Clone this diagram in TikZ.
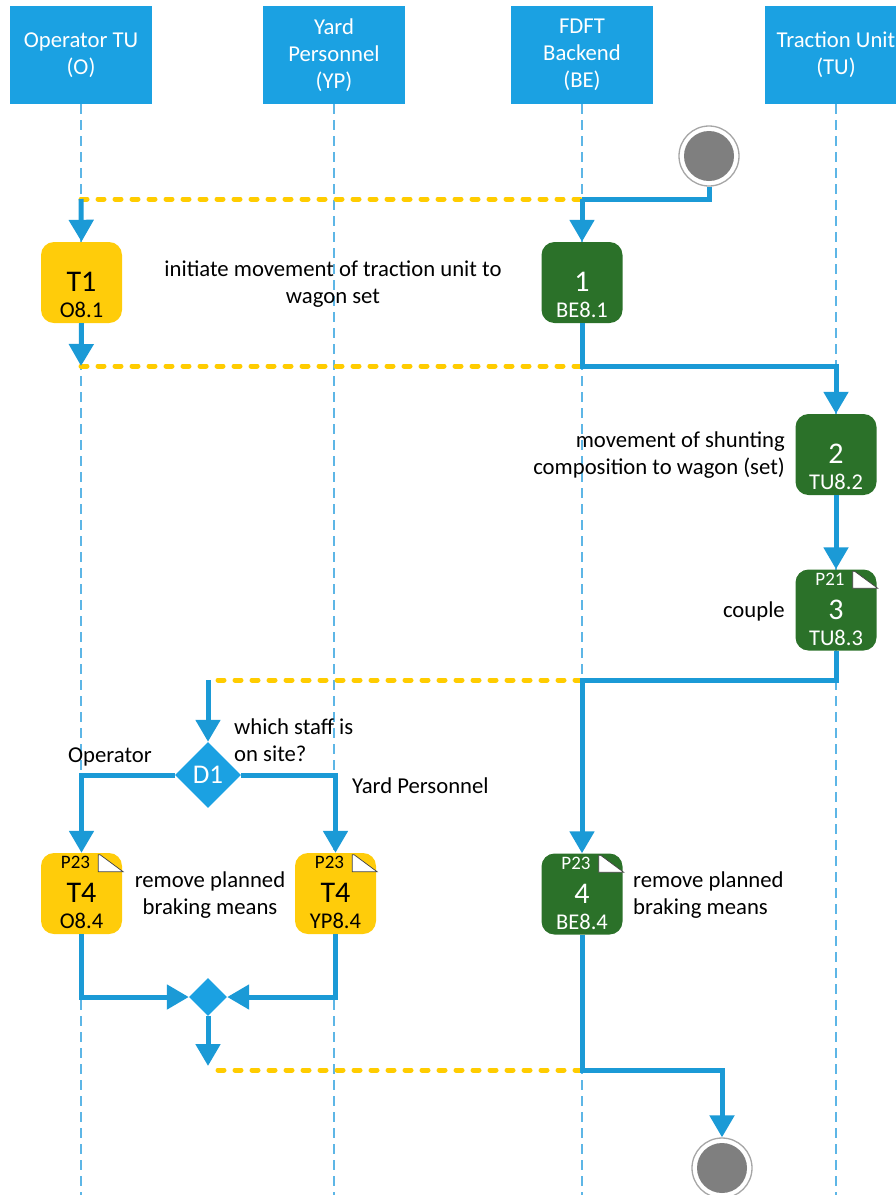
\documentclass[tikz,border=0pt]{standalone}
\usepackage{fontspec}
\setmainfont{Carlito}
\usetikzlibrary{arrows.meta,shapes.geometric,calc}

\definecolor{hdrblue}{HTML}{1BA1E2}
\definecolor{flowblue}{HTML}{1B9AD6}
\definecolor{lifeblue}{HTML}{5DB6E6}
\definecolor{syncyel}{HTML}{FFCC00}
\definecolor{taskyel}{HTML}{FFCC0A}
\definecolor{taskgrn}{HTML}{2B7129}
\definecolor{endgray}{HTML}{7F7F7F}
\definecolor{ringgray}{HTML}{A6A6A6}

\newcommand{\bodyfont}{\fontsize{22.7}{27}\selectfont}
\newcommand{\idfont}{\fontsize{30}{32}\selectfont}
\newcommand{\reffont}{\fontsize{22.5}{24}\selectfont}
\newcommand{\pfont}{\fontsize{19}{20}\selectfont}

\tikzset{
  lane/.style={fill=hdrblue, text=white, minimum width=142pt, minimum height=98pt,
    inner sep=0pt, align=center, font=\bodyfont},
  lifeline/.style={draw=lifeblue, line width=1.3pt, dash pattern=on 10pt off 6pt},
  flow/.style={draw=flowblue, line width=5pt},
  arr/.style={flow, -{Triangle[width=24pt,length=22pt]}},
  sync/.style={draw=syncyel, line width=5pt, line cap=round, dash pattern=on 6pt off 11pt},
  task/.style={rounded corners=13pt, minimum width=81pt, minimum height=81pt, inner sep=0pt},
  optask/.style={task, fill=taskyel},
  betask/.style={task, fill=taskgrn},
  txt/.style={inner sep=0pt, font=\bodyfont},
  decide/.style={diamond, aspect=1, fill=hdrblue, inner sep=0pt, text=white},
  terminal/.style={circle, draw=ringgray, line width=1.3pt, fill=white, minimum size=60pt, inner sep=0pt},
}

% task id and reference inside a task box
\newcommand{\tasktext}[4]{%
  \node[anchor=base, inner sep=0pt, text=#2, font=\idfont] (#1-id) at ([yshift=-50pt]#1.north) {#3};
  \node[anchor=base, inner sep=0pt, text=#2, font=\reffont] (#1-ref) at ([yshift=-76pt]#1.north) {#4};
}
% linked document mark: page number and folded sheet in the top right corner
\newcommand{\docmark}[3]{%
  \node[anchor=base, inner sep=0pt, text=#2, font=\pfont] (#1-doc) at ([xshift=-6pt,yshift=-16pt]#1.north) {#3};
  \filldraw[fill=white, draw=black!75, line width=0.7pt]
    ($(#1.north east)+(-24,2)$) -- ++(2,0) -- ($(#1.north east)+(1,19)$) -- ++(-25,0) -- cycle;
}

\begin{document}
\begin{tikzpicture}[x=1pt, y=-1pt]
  \useasboundingbox (0,0) rectangle (896,1195);
  \clip (0,0) rectangle (896,1195);

  % swimlane headers
  \node[lane] (laneO)  at (81,55)  {Operator TU\\(O)};
  \node[lane] (laneYP) at (334,55) {Yard\\Personnel\\(YP)};
  \node[lane] (laneBE) at (582,55) {FDFT\\Backend\\(BE)};
  \node[lane] (laneTU) at (836,55) {Traction Unit\\(TU)};

  % lifelines
  \foreach \l in {laneO,laneYP,laneBE,laneTU}
    \draw[lifeline] (\l.south) -- (\l.south |- 0,1195);

  % start and end
  \node[terminal] (start) at (709,156) {};
  \fill[endgray] (start.center) circle (25pt);
  \node[terminal] (end) at (722,1168) {};
  \fill[endgray] (end.center) circle (25pt);

  % tasks
  \node[optask] (t1)  at (81.5,282.5) {};
  \node[betask] (b1)  at (582,282.5) {};
  \node[betask] (b2)  at (836,454.5) {};
  \node[betask] (b3)  at (836,610) {};
  \node[optask] (t4a) at (81.5,893.5) {};
  \node[optask] (t4b) at (335.5,893.5) {};
  \node[betask] (b4)  at (582,894) {};

  \tasktext{t1}{black}{T1}{O8.1}
  \tasktext{b1}{white}{1}{BE8.1}
  \tasktext{b2}{white}{2}{TU8.2}
  \tasktext{b3}{white}{3}{TU8.3}
  \tasktext{t4a}{black}{T4}{O8.4}
  \tasktext{t4b}{black}{T4}{YP8.4}
  \tasktext{b4}{white}{4}{BE8.4}
  \docmark{b3}{white}{P21}
  \docmark{t4a}{black}{P23}
  \docmark{t4b}{black}{P23}
  \docmark{b4}{white}{P23}

  % decision and merge
  \node[decide, minimum size=66pt, font=\fontsize{27}{28}\selectfont] (d1) at (208,775) {D1};
  \node[decide, minimum size=38pt] (m) at (208,997) {};

  % synchronisation points
  \coordinate (s1) at (81,199);
  \coordinate (j1) at (582,199);
  \coordinate (s2) at (81,366);
  \coordinate (j2) at (582,366);
  \coordinate (s3) at (208,680);
  \coordinate (j3) at (582,680);
  \coordinate (s4) at (208,1070);
  \coordinate (j4) at (582,1070);

  \draw[sync] (s1) -- (j1);
  \draw[sync] (s2) -- (j2);
  \draw[sync, shorten <=10pt] (s3) -- (j3);
  \draw[sync, shorten <=10pt] (s4) -- (j4);

  % control flow
  \draw[flow] (start.south) |- (j1);
  \draw[arr] (j1) -- (b1.north);
  \draw[arr] (s1) -- (t1.north);
  \draw[arr] (t1.south) -- (s2);
  \draw[arr] (b1.south) -- (j2) -| (b2.north);
  \draw[arr] (b2.south) -- (b3.north);
  \draw[arr] (b3.south) |- (j3) -- (b4.north);
  \draw[arr] (s3) -- (d1.north);
  \draw[arr] (d1.west) -| (t4a.north);
  \draw[arr] (d1.east) -| (t4b.north);
  \draw[arr] (t4a.south) |- (m.west);
  \draw[arr] (t4b.south) |- (m.east);
  \draw[arr] (m.south) -- ([yshift=4pt]s4);
  \draw[arr] (b4.south) -- (j4) -| (end.north);

  % annotations
  \node[txt, align=center] (n-init) at (333,284) {initiate movement of traction unit to\\wagon set};
  \node[txt, align=right, anchor=east] (n-move) at (785,455) {movement of shunting\\composition to wagon (set)};
  \node[txt, anchor=east] (n-couple) at (785,611) {couple};
  \node[txt, align=left, anchor=west] (n-which) at (234,740) {which staff is\\on site?};
  \node[txt, anchor=west] (n-op) at (68,757) {Operator};
  \node[txt, anchor=west] (n-yp) at (352,786) {Yard Personnel};
  \node[txt, align=center] (n-rem1) at (210,895) {remove planned\\braking means};
  \node[txt, align=left, anchor=west] (n-rem2) at (633,895) {remove planned\\braking means};
\end{tikzpicture}
\end{document}
